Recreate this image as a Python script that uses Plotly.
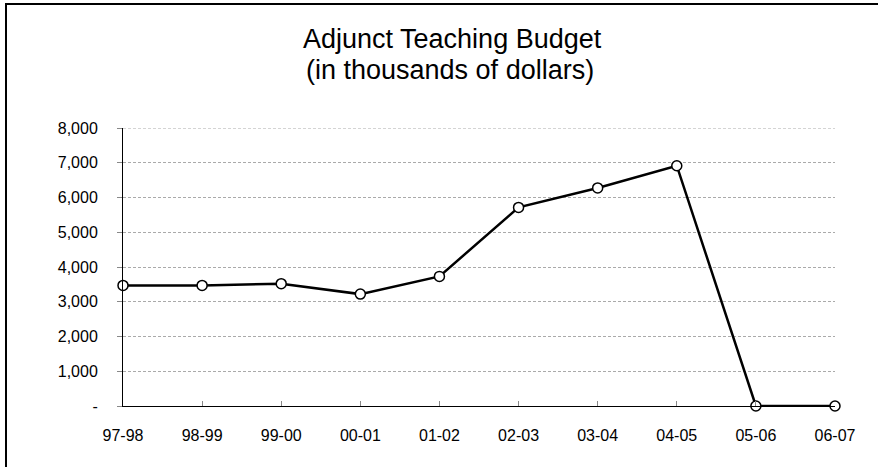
import plotly.graph_objects as go

# Fiscal years and budget (thousands of dollars)
years = ["97-98", "98-99", "99-00", "00-01", "01-02",
         "02-03", "03-04", "04-05", "05-06", "06-07"]
budget = [3470, 3470, 3520, 3220, 3730, 5715, 6275, 6915, 0, 0]

y_ticks = [0, 1000, 2000, 3000, 4000, 5000, 6000, 7000, 8000]
y_tick_text = ["-", "1,000", "2,000", "3,000", "4,000",
               "5,000", "6,000", "7,000", "8,000"]
y_max = y_ticks[-1]

W, H = 878, 467
ML, MR, MT, MB = 123, 43, 128, 61
PW, PH = W - ML - MR, H - MT - MB


def px_x(px):
    return (px - ML) / PW


def px_y(py):
    return (H - MB - py) / PH


FONT = "Liberation Sans, Arial, sans-serif"
GRID = dict(color="#aaaaaa", width=1, dash="3px,2px")

fig = go.Figure()
fig.add_trace(go.Scatter(
    x=years, y=budget, mode="lines+markers",
    line=dict(color="black", width=2.5),
    marker=dict(symbol="circle", size=10, color="white",
                line=dict(color="black", width=1.5)),
    cliponaxis=False, showlegend=False,
))

fig.update_layout(
    width=W, height=H,
    margin=dict(l=ML, r=MR, t=MT, b=MB),
    paper_bgcolor="white", plot_bgcolor="white",
    font=dict(family=FONT, color="black", size=16),
    xaxis=dict(
        type="category", range=[0, len(years) - 1],
        showline=True, linecolor="black", linewidth=1,
        ticks="inside", ticklen=5, tickcolor="#888", tickwidth=1,
        showgrid=False, zeroline=False,
        tickfont=dict(size=16), ticklabelstandoff=15,
    ),
    yaxis=dict(
        range=[0, y_max], tickvals=y_ticks, ticktext=y_tick_text,
        showline=True, linecolor="black", linewidth=1,
        ticks="outside", ticklen=5, tickcolor="#888", tickwidth=1,
        showgrid=True, gridcolor=GRID["color"], gridwidth=1,
        griddash=GRID["dash"],
        zeroline=False, tickfont=dict(size=16), ticklabelstandoff=16,
    ),
    shapes=[
        # top gridline at the axis maximum
        dict(type="line", xref="paper", yref="y", layer="below",
             x0=0, x1=1, y0=y_max, y1=y_max, line=GRID),
        # chart frame (left and top edges in view)
        dict(type="rect", xref="paper", yref="paper", layer="above",
             x0=px_x(6), x1=px_x(W + 40), y0=px_y(H + 40), y1=px_y(4),
             line=dict(color="black", width=2), fillcolor="rgba(0,0,0,0)"),
    ],
    annotations=[
        dict(text="Adjunct Teaching Budget", xref="paper", yref="paper",
             x=px_x(452), y=px_y(39), xanchor="center", yanchor="middle",
             showarrow=False, font=dict(size=27, family=FONT)),
        dict(text="(in thousands of dollars)", xref="paper", yref="paper",
             x=px_x(450), y=px_y(70), xanchor="center", yanchor="middle",
             showarrow=False, font=dict(size=27, family=FONT)),
    ],
)

fig.write_html("out.html")
